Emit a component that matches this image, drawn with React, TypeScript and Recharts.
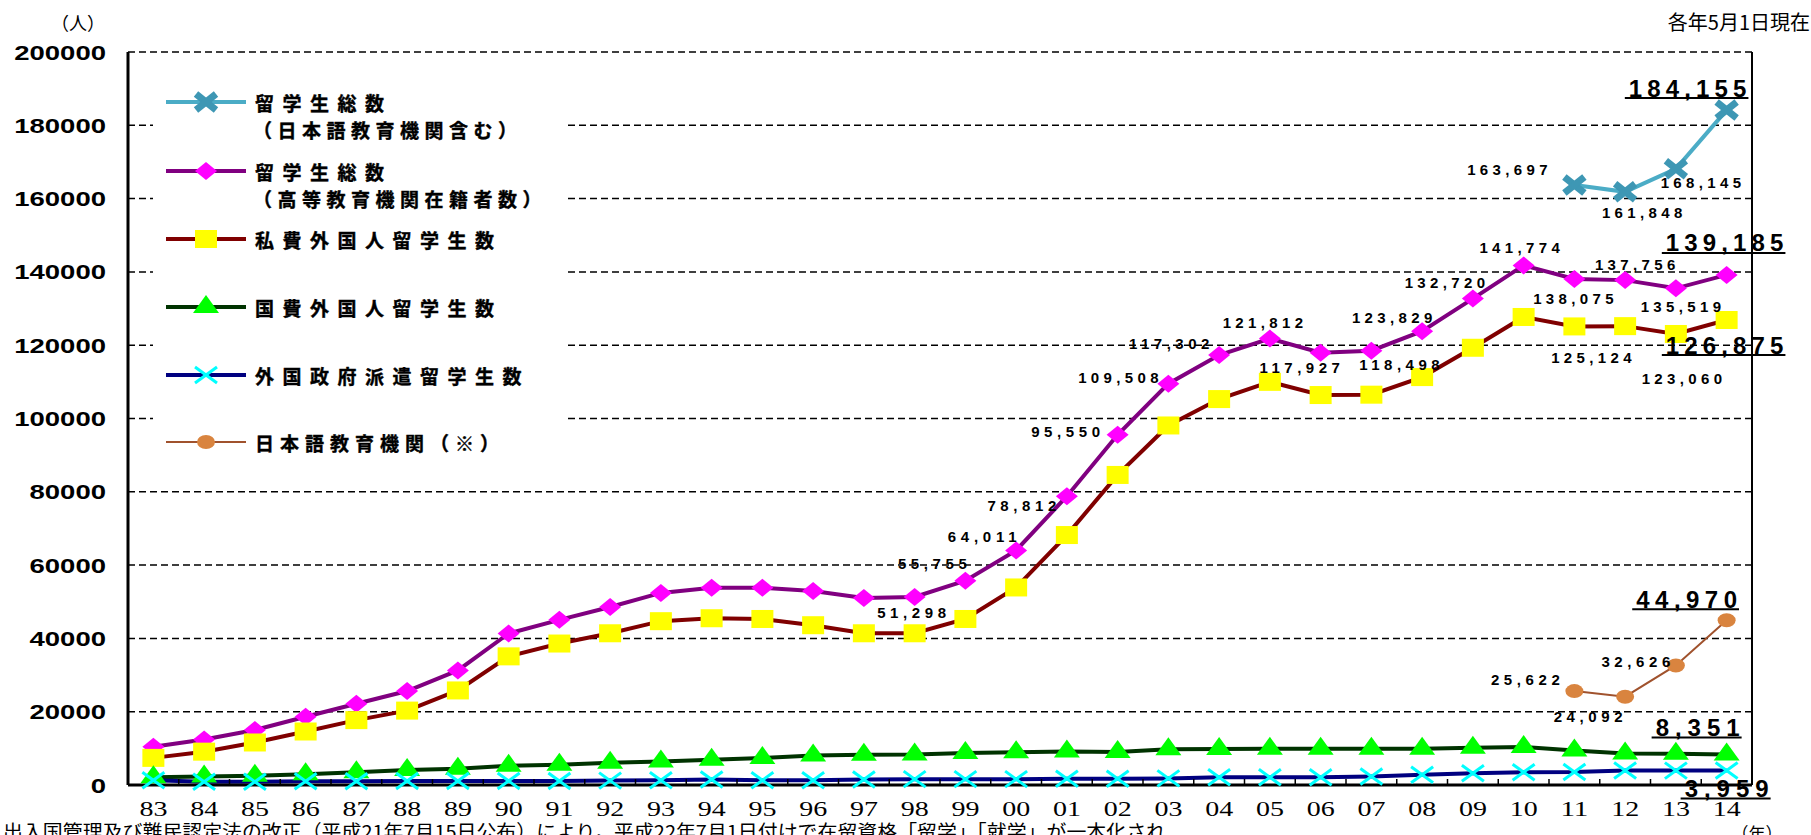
import React from 'react';
import {
  LineChart, Line, XAxis, YAxis, CartesianGrid, Legend, LabelList,
} from 'recharts';

const YEARS = [
  '83', '84', '85', '86', '87', '88', '89', '90', '91', '92', '93', '94', '95', '96', '97', '98',
  '99', '00', '01', '02', '03', '04', '05', '06', '07', '08', '09', '10', '11', '12', '13', '14',
];

// 留学生総数（日本語教育機関含む）
const TOTAL_WITH_JP = [
  null, null, null, null, null, null, null, null, null, null, null, null, null, null, null, null,
  null, null, null, null, null, null, null, null, null, null, null, null, 163697, 161848, 168145, 184155,
];
// 留学生総数（高等教育機関在籍者数）
const TOTAL_HIGHER = [
  10428, 12410, 15009, 18631, 22154, 25643, 31251, 41347, 45066, 48561, 52405, 53787, 53847, 52921, 51047, 51298,
  55755, 64011, 78812, 95550, 109508, 117302, 121812, 117927, 118498, 123829, 132720, 141774, 138075, 137756, 135519, 139185,
];
// 私費外国人留学生数
const PRIVATE = [
  7400, 9100, 11600, 14600, 17700, 20300, 25800, 35100, 38600, 41400, 44700, 45500, 45300, 43600, 41400, 41400,
  45300, 53900, 68200, 84600, 98100, 105300, 110000, 106400, 106500, 111300, 119300, 127700, 125124, 125200, 123060, 126875,
];
// 国費外国人留学生数
const GOV = [
  2082, 2345, 2502, 2960, 3458, 4118, 4465, 5219, 5552, 6073, 6427, 6880, 7371, 8051, 8250, 8323,
  8753, 8930, 9173, 9009, 9746, 9804, 9891, 9869, 9923, 9923, 10168, 10349, 9396, 8588, 8529, 8351,
];
// 外国政府派遣留学生数
const FOREIGN_GOV = [
  1300, 900, 900, 1000, 1000, 1100, 1100, 1100, 1100, 1200, 1300, 1500, 1300, 1300, 1500, 1600,
  1600, 1600, 1700, 1700, 1800, 2100, 2100, 2100, 2300, 2800, 3200, 3500, 3555, 3950, 3930, 3959,
];
// 日本語教育機関（※）
const JP_SCHOOLS = [
  null, null, null, null, null, null, null, null, null, null, null, null, null, null, null, null,
  null, null, null, null, null, null, null, null, null, null, null, null, 25622, 24092, 32626, 44970,
];

const Y_TICKS = [0, 20000, 40000, 60000, 80000, 100000, 120000, 140000, 160000, 180000, 200000];

const data = YEARS.map((year, i) => ({
  year,
  totalJp: TOTAL_WITH_JP[i],
  totalHigher: TOTAL_HIGHER[i],
  priv: PRIVATE[i],
  gov: GOV[i],
  foreignGov: FOREIGN_GOV[i],
  jpSchools: JP_SCHOOLS[i],
}));

// layout
const W = 1811;
const H = 835;
const LEFT = 128;
const RIGHT = 59;
const TOP = 52;
const BOTTOM = 50;
const PLOT_W = W - LEFT - RIGHT;
const STEP = PLOT_W / YEARS.length;

const NUM_FONT = '"Liberation Sans", Arial, sans-serif';
const JP_FONT = '"Noto Sans CJK JP", "Noto Sans CJK SC", sans-serif';

// label placement: year -> [dx, dy, big]
type Place = Record<string, [number, number, boolean?]>;
const PLACE_TOTAL_JP: Place = { '11': [-67, -16], '12': [17, 21], '13': [25, 14], '14': [-39, -22, true] };
const PLACE_HIGHER: Place = {
  '98': [-3, 16], '99': [-33, -17], '00': [-34, -14], '01': [-45, 9], '02': [-52, -3], '03': [-50, -6],
  '04': [-50, -12], '05': [-7, -16], '06': [-21, 15], '07': [28, 14], '08': [-30, -14], '09': [-28, -16],
  '10': [-4, -18], '11': [-1, 20], '12': [10, -16], '13': [5, 18], '14': [-2, -32, true],
};
const PLACE_PRIVATE: Place = { '11': [17, 31], '13': [6, 45], '14': [-2, 25, true] };
const PLACE_GOV: Place = { '14': [-29, -27, true] };
const PLACE_FOREIGN: Place = { '14': [0, 18, true] };
const PLACE_JP: Place = { '11': [-49, -12], '12': [-37, 20], '13': [-40, -4], '14': [-40, -21, true] };

const makeLabel = (place: Place) => (props: any) => {
  const { x, y, value, index } = props;
  const p = place[YEARS[index]];
  if (!p || value == null) return null;
  const [dx, dy, big] = p;
  const s = Number(value).toLocaleString('en-US');
  const cx = x + dx;
  const cy = y + dy;
  if (big) {
    const w = s.length * 16.8;
    return (
      <g>
        <text x={cx} y={cy} textAnchor="middle" dominantBaseline="central" fontFamily={NUM_FONT}
          fontWeight="bold" fontSize={24} textLength={w} lengthAdjust="spacing" fill="#000">{s}</text>
        <line x1={cx - w / 2 - 4} x2={cx + w / 2 + 2} y1={cy + 10} y2={cy + 10} stroke="#000" strokeWidth={2} />
      </g>
    );
  }
  return (
    <text x={cx} y={cy} textAnchor="middle" dominantBaseline="central" fontFamily={NUM_FONT}
      fontWeight="bold" fontSize={15} textLength={s.length * 11.5} lengthAdjust="spacing" fill="#000">{s}</text>
  );
};

// marker shapes
const BigX = ({ cx, cy }: { cx: number; cy: number }) => (
  <g stroke="#3E97B4" strokeWidth={7} strokeLinecap="butt">
    <line x1={cx - 10} y1={cy - 8} x2={cx + 10} y2={cy + 8} />
    <line x1={cx - 10} y1={cy + 8} x2={cx + 10} y2={cy - 8} />
  </g>
);
const Diamond = ({ cx, cy }: { cx: number; cy: number }) => (
  <polygon points={`${cx},${cy - 9} ${cx + 11},${cy} ${cx},${cy + 9} ${cx - 11},${cy}`} fill="#FF00FF" />
);
const Square = ({ cx, cy }: { cx: number; cy: number }) => (
  <rect x={cx - 11} y={cy - 9} width={22} height={18} fill="#FFFF00" />
);
const Triangle = ({ cx, cy }: { cx: number; cy: number }) => (
  <polygon points={`${cx},${cy - 12} ${cx + 13},${cy + 6} ${cx - 13},${cy + 6}`} fill="#00FF00" />
);
const ThinX = ({ cx, cy }: { cx: number; cy: number }) => (
  <g stroke="#00FFFF" strokeWidth={3}>
    <line x1={cx - 11} y1={cy - 8} x2={cx + 11} y2={cy + 8} />
    <line x1={cx - 11} y1={cy + 8} x2={cx + 11} y2={cy - 8} />
  </g>
);
const Dot = ({ cx, cy }: { cx: number; cy: number }) => (
  <ellipse cx={cx} cy={cy} rx={9} ry={7} fill="#D9843F" />
);

const makeDot = (Shape: React.FC<{ cx: number; cy: number }>) => (props: any) => {
  const { cx, cy, index, value } = props;
  if (value == null || cy == null || Number.isNaN(cy)) return <g key={`d-${index}`} />;
  return <g key={`d-${index}`}><Shape cx={cx} cy={cy} /></g>;
};

const YTick = (props: any) => {
  const { x, y, payload } = props;
  const s = String(payload.value);
  return (
    <text x={x} y={y} textAnchor="end" dominantBaseline="central" fontFamily={NUM_FONT}
      fontWeight="bold" fontSize={21} textLength={s.length * 15.3} lengthAdjust="spacingAndGlyphs" fill="#000">{s}</text>
  );
};

const X_MARGIN = 31;
const XTick = (props: any) => {
  const { x, y, payload } = props;
  const axisY = y - X_MARGIN;
  return (
    <g>
      <line x1={x - STEP / 2} x2={x - STEP / 2} y1={axisY} y2={axisY - 6} stroke="#000" strokeWidth={1.5} />
      <text x={x} y={y} textAnchor="middle" fontFamily='"Liberation Serif", "Times New Roman", serif'
        fontSize={22} textLength={28} lengthAdjust="spacingAndGlyphs" fill="#000">{payload.value}</text>
    </g>
  );
};

const LEGEND_ITEMS = [
  { lines: ['留学生総数', '（日本語教育機関含む）'], color: '#4BACC6', width: 4, Shape: BigX },
  { lines: ['留学生総数', '（高等教育機関在籍者数）'], color: '#800080', width: 4, Shape: Diamond },
  { lines: ['私費外国人留学生数'], color: '#800000', width: 4, Shape: Square },
  { lines: ['国費外国人留学生数'], color: '#003300', width: 4, Shape: Triangle },
  { lines: ['外国政府派遣留学生数'], color: '#000080', width: 4, Shape: ThinX },
  { lines: ['日本語教育機関（※）'], color: '#A0522D', width: 2, Shape: Dot },
];
const LEGEND_ROWS = [42, 111, 179, 247, 315, 382];

const LegendBox = () => (
  <svg width={413} height={410} style={{ display: 'block' }}>
    {LEGEND_ITEMS.map((it, i) => {
      const y = LEGEND_ROWS[i];
      return (
        <g key={i}>
          <line x1={13} x2={93} y1={y} y2={y} stroke={it.color} strokeWidth={it.width} />
          <it.Shape cx={53} cy={y} />
          {it.lines.map((t, j) => (
            <text key={j} x={j === 0 ? 102 : 100} y={y + j * 27} dominantBaseline="central" fontFamily={JP_FONT}
              fontWeight="bold" fontSize={19} letterSpacing={t.startsWith('（') ? 5.5 : i === 5 ? 6 : 8.5}
              stroke="#000" strokeWidth={0.4} fill="#000">{t}</text>
          ))}
        </g>
      );
    })}
  </svg>
);

export default function App() {
  return (
    <div style={{ position: 'relative', width: W, height: H, background: '#fff', overflow: 'hidden' }}>
      <style>{'body{margin:0}'}</style>
      <LineChart width={W} height={H} data={data} margin={{ top: TOP, right: 0, left: 0, bottom: 0 }}>
        <CartesianGrid vertical={false} stroke="#000" strokeWidth={1.5} strokeDasharray="7 4" />
        <XAxis dataKey="year" height={BOTTOM} padding={{ left: STEP / 2, right: STEP / 2 }}
          axisLine={{ stroke: '#000', strokeWidth: 3 }} tickLine={false} tickSize={0} tickMargin={X_MARGIN}
          tick={<XTick />} interval={0} />
        <YAxis width={LEFT} domain={[0, 200000]} ticks={Y_TICKS} interval={0}
          axisLine={{ stroke: '#000', strokeWidth: 3 }} tickLine={false} tickSize={0} tickMargin={22}
          tick={<YTick />} />
        <YAxis yAxisId="r" orientation="right" width={RIGHT} domain={[0, 200000]} tick={false}
          tickLine={false} axisLine={{ stroke: '#000', strokeWidth: 2 }} />
        <Legend verticalAlign="middle" align="center" layout="horizontal" content={<LegendBox />}
          wrapperStyle={{ position: 'absolute', left: 153, top: 60, width: 413, height: 410, background: '#fff' }} />
        <Line dataKey="totalJp" stroke="#4BACC6" strokeWidth={4} dot={makeDot(BigX)} isAnimationActive={false}>
          <LabelList dataKey="totalJp" content={makeLabel(PLACE_TOTAL_JP)} />
        </Line>
        <Line dataKey="totalHigher" stroke="#800080" strokeWidth={4} dot={makeDot(Diamond)} isAnimationActive={false}>
          <LabelList dataKey="totalHigher" content={makeLabel(PLACE_HIGHER)} />
        </Line>
        <Line dataKey="priv" stroke="#800000" strokeWidth={4} dot={makeDot(Square)} isAnimationActive={false}>
          <LabelList dataKey="priv" content={makeLabel(PLACE_PRIVATE)} />
        </Line>
        <Line dataKey="gov" stroke="#003300" strokeWidth={4} dot={makeDot(Triangle)} isAnimationActive={false}>
          <LabelList dataKey="gov" content={makeLabel(PLACE_GOV)} />
        </Line>
        <Line dataKey="foreignGov" stroke="#000080" strokeWidth={4} dot={makeDot(ThinX)} isAnimationActive={false}>
          <LabelList dataKey="foreignGov" content={makeLabel(PLACE_FOREIGN)} />
        </Line>
        <Line dataKey="jpSchools" stroke="#A0522D" strokeWidth={2} dot={makeDot(Dot)} isAnimationActive={false}>
          <LabelList dataKey="jpSchools" content={makeLabel(PLACE_JP)} />
        </Line>
      </LineChart>
      <svg width={W} height={H} style={{ position: 'absolute', left: 0, top: 0, pointerEvents: 'none' }}>
        <text x={78} y={30} textAnchor="middle" fontFamily={JP_FONT} fontSize={18} fill="#000">（人）</text>
        <text x={W - 1} y={30} textAnchor="end" fontFamily={JP_FONT} fontSize={20} fill="#000">各年5月1日現在</text>
        <text x={1757} y={840} textAnchor="middle" fontFamily={JP_FONT} fontSize={17} fill="#000">（年）</text>
        <text x={3} y={839} fontFamily={JP_FONT} fontSize={19} textLength={1163} lengthAdjust="spacingAndGlyphs" fill="#000">
          出入国管理及び難民認定法の改正（平成21年7月15日公布）により，平成22年7月1日付けで在留資格「留学」「就学」が一本化され
        </text>
      </svg>
    </div>
  );
}
